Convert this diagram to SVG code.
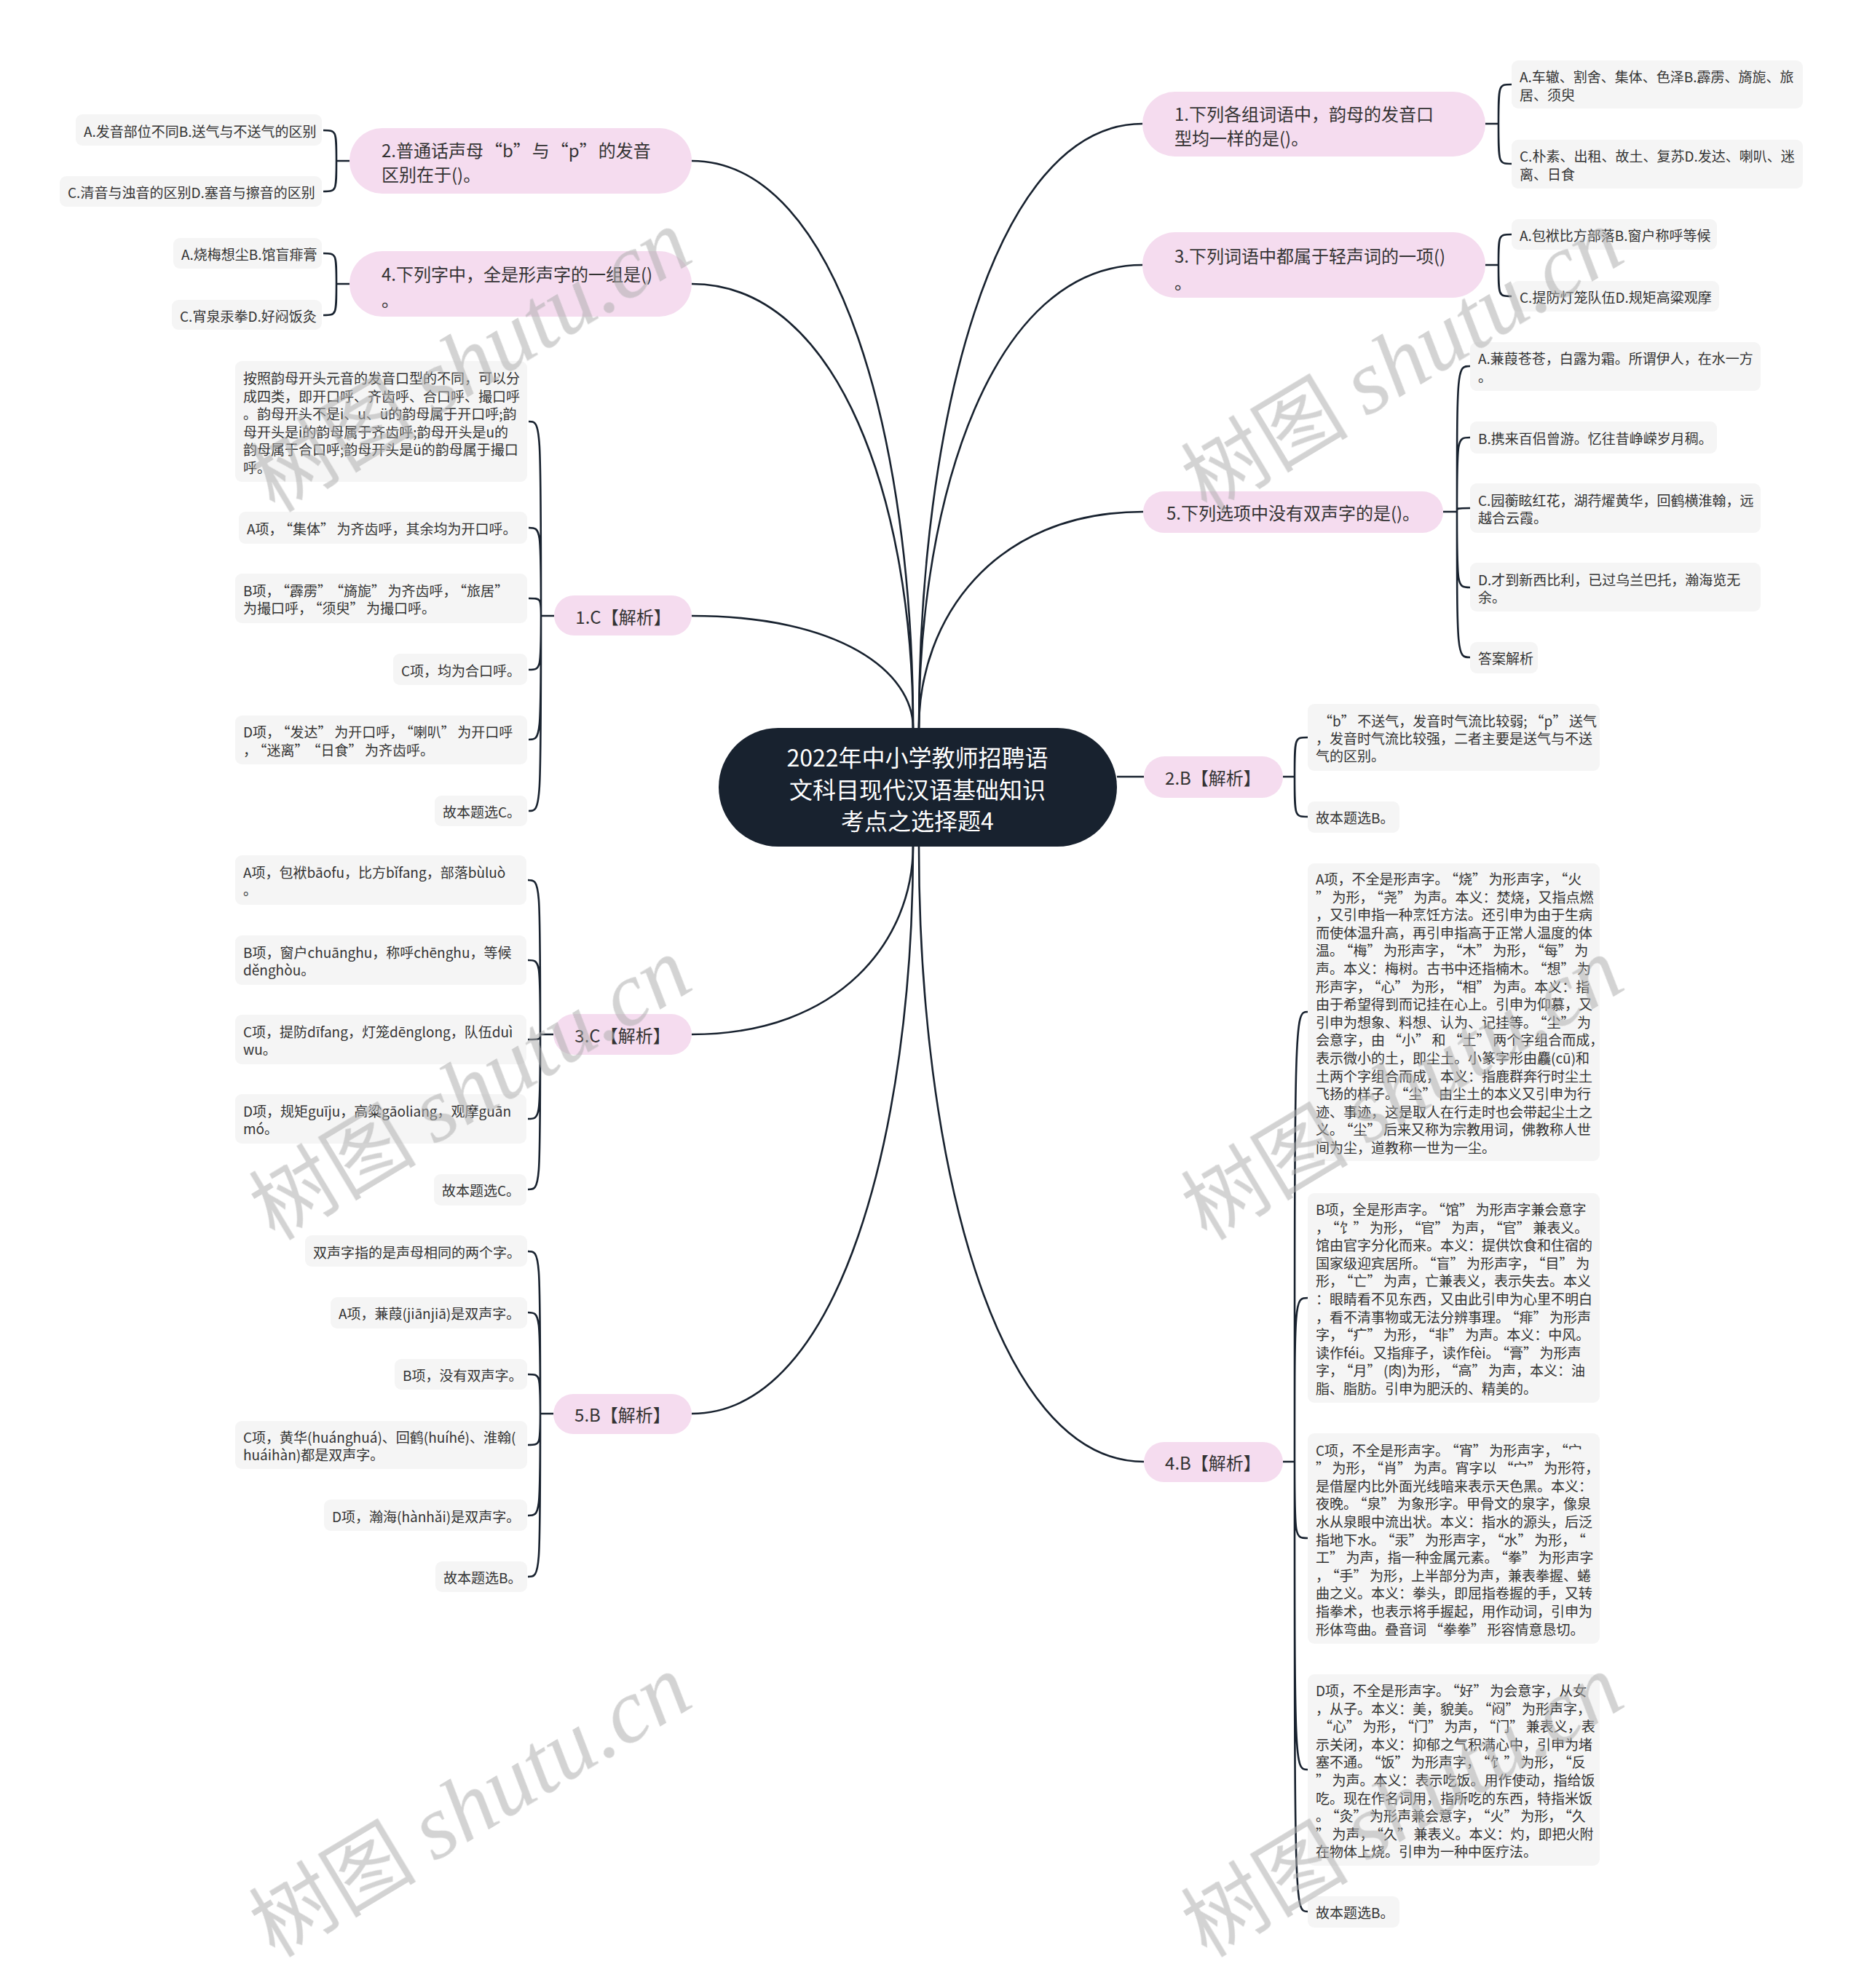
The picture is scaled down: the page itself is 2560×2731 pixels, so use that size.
<svg xmlns="http://www.w3.org/2000/svg" width="2560" height="2731" viewBox="0 0 2560 2731">
<style>
.bg{fill:#ffffff}
.pk{fill:#f5dcef}
.lf{fill:#f5f5f5}
.ln{fill:none;stroke:#18222f;stroke-width:2.6}
text{font-family:"Noto Sans CJK SC","Noto Sans",sans-serif;dominant-baseline:central}
.t1{font-size:24px;fill:#333333}
.t2{font-size:19px;fill:#333333}
.ct{font-size:32px;fill:#ffffff}
.c{letter-spacing:3.5px}
.c1{letter-spacing:2px}
.wm{fill:#b0b0b0;opacity:0.55}
</style>
<rect class="bg" x="0" y="0" width="2560" height="2731"/>
<g id="connectors">
<path class="ln" d="M1254 1000 C1254 610 1154 221 950 221"/>
<path class="ln" d="M1254 1000 C1254 695 1154 390 950 390"/>
<path class="ln" d="M1254 1000 C1254 923 1154 846 950 846"/>
<path class="ln" d="M1262 1000 C1262 585 1363 170 1569 170"/>
<path class="ln" d="M1262 1000 C1262 682 1363 364 1569 364"/>
<path class="ln" d="M1262 1000 C1262 851 1364 703 1570 703"/>
<path class="ln" d="M1254 1162 C1254 1291 1154 1421 950 1421"/>
<path class="ln" d="M1254 1162 C1254 1552 1154 1942 950 1942"/>
<path class="ln" d="M1262 1162 C1262 1585 1364 2008 1571 2008"/>
<path class="ln" d="M1534 1067 L1571 1067"/>
<path class="ln" d="M480 221 L462 221 C462 179 462 179 444 179 M462 221 C462 263 462 263 444 263"/>
<path class="ln" d="M480 390 L462 390 C462 348 462 348 444 348 M462 390 C462 433 462 433 444 433"/>
<path class="ln" d="M761 846 L743 846 C743 579 743 579 726 579 M743 846 C743 725 743 725 726 725 M743 846 C743 822 743 822 726 822 M743 846 C743 920 743 920 726 920 M743 846 C743 1016 743 1016 726 1016 M743 846 C743 1114 743 1114 726 1114"/>
<path class="ln" d="M760 1421 L742 1421 C742 1209 742 1209 725 1209 M742 1421 C742 1319 742 1319 725 1319 M742 1421 C742 1428 742 1428 725 1428 M742 1421 C742 1537 742 1537 725 1537 M742 1421 C742 1634 742 1634 725 1634"/>
<path class="ln" d="M760 1942 L742 1942 C742 1719 742 1719 725 1719 M742 1942 C742 1803 742 1803 725 1803 M742 1942 C742 1888 742 1888 725 1888 M742 1942 C742 1985 742 1985 725 1985 M742 1942 C742 2082 742 2082 725 2082 M742 1942 C742 2166 742 2166 725 2166"/>
<path class="ln" d="M2040 170 L2058 170 C2058 116 2058 116 2076 116 M2058 170 C2058 225 2058 225 2076 225"/>
<path class="ln" d="M2040 364 L2058 364 C2058 322 2058 322 2076 322 M2058 364 C2058 407 2058 407 2076 407"/>
<path class="ln" d="M1982 703 L2001 703 C2001 503 2001 503 2019 503 M2001 703 C2001 601 2001 601 2019 601 M2001 703 C2001 698 2001 698 2019 698 M2001 703 C2001 807 2001 807 2019 807 M2001 703 C2001 903 2001 903 2019 903"/>
<path class="ln" d="M1762 1067 L1778 1067 C1778 1013 1778 1013 1796 1013 M1778 1067 C1778 1122 1778 1122 1796 1122"/>
<path class="ln" d="M1762 2008 L1778 2008 C1778 1390 1778 1390 1796 1390 M1778 2008 C1778 1783 1778 1783 1796 1783 M1778 2008 C1778 2113 1778 2113 1796 2113 M1778 2008 C1778 2431 1778 2431 1796 2431 M1778 2008 C1778 2626 1778 2626 1796 2626"/>
</g>
<g id="root">
<rect x="987" y="1000" width="547" height="163" rx="81.5" fill="#18222f"/>
<text class="ct" text-anchor="middle"><tspan x="1260" y="1039">2022年中小学教师招聘语</tspan><tspan x="1260" y="1083">文科目现代汉语基础知识</tspan><tspan x="1260" y="1126">考点之选择题4</tspan></text>
</g>
<g id="q2">
<rect class="pk" x="480" y="176" width="470" height="90" rx="45"/>
<text class="t1"><tspan x="524" y="205">2.普通话声母<tspan dx="2">“</tspan>b<tspan class="c1">”</tspan>与<tspan dx="2">“</tspan>p<tspan class="c1">”</tspan>的发音</tspan><tspan x="524" y="238">区别在于()。</tspan></text>
<rect class="lf" x="104" y="157" width="338" height="43" rx="9"/>
<text class="t2" x="115" y="179">A.发音部位不同B.送气与不送气的区别</text>
<rect class="lf" x="82" y="242" width="360" height="42" rx="9"/>
<text class="t2" x="93" y="263">C.清音与浊音的区别D.塞音与擦音的区别</text>
</g>
<g id="q4">
<rect class="pk" x="480" y="345" width="470" height="90" rx="45"/>
<text class="t1"><tspan x="524" y="375">4.下列字中，全是形声字的一组是()</tspan><tspan x="524" y="410">。</tspan></text>
<rect class="lf" x="238" y="327" width="204" height="42" rx="9"/>
<text class="t2" x="249" y="348">A.烧梅想尘B.馆盲痱膏</text>
<rect class="lf" x="236" y="412" width="206" height="41" rx="9"/>
<text class="t2" x="247" y="433">C.宵泉汞拳D.好闷饭灸</text>
</g>
<g id="a1">
<rect class="pk" x="761" y="818" width="189" height="55" rx="27.5"/>
<text class="t1" x="856" y="846" text-anchor="middle">1.C【解析】</text>
<rect class="lf" x="323" y="496" width="401" height="166" rx="9"/>
<text class="t2"><tspan x="334" y="518">按照韵母开头元音的发音口型的不同，可以分</tspan><tspan x="334" y="542.5">成四类，即开口呼、齐齿呼、合口呼、撮口呼</tspan><tspan x="334" y="567">。韵母开头不是i、u、ü的韵母属于开口呼;韵</tspan><tspan x="334" y="591.5">母开头是i的韵母属于齐齿呼;韵母开头是u的</tspan><tspan x="334" y="616">韵母属于合口呼;韵母开头是ü的韵母属于撮口</tspan><tspan x="334" y="640.5">呼。</tspan></text>
<rect class="lf" x="328" y="703" width="396" height="44" rx="9"/>
<text class="t2" x="339" y="725">A项，<tspan dx="4">“</tspan>集体<tspan class="c">”</tspan>为齐齿呼，其余均为开口呼。</text>
<rect class="lf" x="323" y="788" width="401" height="68" rx="9"/>
<text class="t2"><tspan x="334" y="810">B项，<tspan dx="4">“</tspan>霹雳<tspan class="c">”</tspan><tspan dx="4">“</tspan>旖旎<tspan class="c">”</tspan>为齐齿呼，<tspan dx="4">“</tspan>旅居<tspan class="c">”</tspan></tspan><tspan x="334" y="834">为撮口呼，<tspan dx="4">“</tspan>须臾<tspan class="c">”</tspan>为撮口呼。</tspan></text>
<rect class="lf" x="540" y="898" width="184" height="43" rx="9"/>
<text class="t2" x="551" y="920">C项，均为合口呼。</text>
<rect class="lf" x="323" y="983" width="401" height="67" rx="9"/>
<text class="t2"><tspan x="334" y="1004">D项，<tspan dx="4">“</tspan>发达<tspan class="c">”</tspan>为开口呼，<tspan dx="4">“</tspan>喇叭<tspan class="c">”</tspan>为开口呼</tspan><tspan x="334" y="1029">，<tspan dx="4">“</tspan>迷离<tspan class="c">”</tspan><tspan dx="4">“</tspan>日食<tspan class="c">”</tspan>为齐齿呼。</tspan></text>
<rect class="lf" x="597" y="1093" width="127" height="42" rx="9"/>
<text class="t2" x="608" y="1114">故本题选C。</text>
</g>
<g id="a3">
<rect class="pk" x="760" y="1393" width="190" height="56" rx="28"/>
<text class="t1" x="855" y="1421" text-anchor="middle">3.C【解析】</text>
<rect class="lf" x="323" y="1175" width="400" height="68" rx="9"/>
<text class="t2"><tspan x="334" y="1197">A项，包袱bāofu，比方bǐfang，部落bùluò</tspan><tspan x="334" y="1221">。</tspan></text>
<rect class="lf" x="323" y="1285" width="400" height="68" rx="9"/>
<text class="t2"><tspan x="334" y="1307">B项，窗户chuānghu，称呼chēnghu，等候</tspan><tspan x="334" y="1331">děnghòu。</tspan></text>
<rect class="lf" x="323" y="1394" width="400" height="68" rx="9"/>
<text class="t2"><tspan x="334" y="1416">C项，提防dīfang，灯笼dēnglong，队伍duì</tspan><tspan x="334" y="1440">wu。</tspan></text>
<rect class="lf" x="323" y="1503" width="400" height="68" rx="9"/>
<text class="t2"><tspan x="334" y="1525">D项，规矩guīju，高粱gāoliang，观摩guān</tspan><tspan x="334" y="1549">mó。</tspan></text>
<rect class="lf" x="596" y="1613" width="127" height="43" rx="9"/>
<text class="t2" x="607" y="1634">故本题选C。</text>
</g>
<g id="a5">
<rect class="pk" x="760" y="1915" width="190" height="55" rx="27.5"/>
<text class="t1" x="855" y="1942" text-anchor="middle">5.B【解析】</text>
<rect class="lf" x="419" y="1697" width="305" height="43" rx="9"/>
<text class="t2" x="430" y="1719">双声字指的是声母相同的两个字。</text>
<rect class="lf" x="454" y="1782" width="270" height="43" rx="9"/>
<text class="t2" x="465" y="1803">A项，蒹葭(jiānjiā)是双声字。</text>
<rect class="lf" x="542" y="1867" width="182" height="42" rx="9"/>
<text class="t2" x="553" y="1888">B项，没有双声字。</text>
<rect class="lf" x="323" y="1952" width="401" height="66" rx="9"/>
<text class="t2"><tspan x="334" y="1973">C项，黄华(huánghuá)、回鹤(huíhé)、淮翰(</tspan><tspan x="334" y="1997">huáihàn)都是双声字。</tspan></text>
<rect class="lf" x="445" y="2060" width="279" height="43" rx="9"/>
<text class="t2" x="456" y="2082">D项，瀚海(hànhǎi)是双声字。</text>
<rect class="lf" x="598" y="2145" width="126" height="42" rx="9"/>
<text class="t2" x="609" y="2166">故本题选B。</text>
</g>
<g id="q1">
<rect class="pk" x="1569" y="126" width="471" height="89" rx="44.5"/>
<text class="t1"><tspan x="1613" y="155">1.下列各组词语中，韵母的发音口</tspan><tspan x="1613" y="188">型均一样的是()。</tspan></text>
<rect class="lf" x="2076" y="83" width="400" height="66" rx="9"/>
<text class="t2"><tspan x="2087" y="104">A.车辙、割舍、集体、色泽B.霹雳、旖旎、旅</tspan><tspan x="2087" y="128.5">居、须臾</tspan></text>
<rect class="lf" x="2076" y="192" width="400" height="67" rx="9"/>
<text class="t2"><tspan x="2087" y="213">C.朴素、出租、故土、复苏D.发达、喇叭、迷</tspan><tspan x="2087" y="237.5">离、日食</tspan></text>
</g>
<g id="q3">
<rect class="pk" x="1569" y="319" width="471" height="90" rx="45"/>
<text class="t1"><tspan x="1613" y="350">3.下列词语中都属于轻声词的一项()</tspan><tspan x="1613" y="386">。</tspan></text>
<rect class="lf" x="2076" y="301" width="282" height="42" rx="9"/>
<text class="t2" x="2087" y="322">A.包袱比方部落B.窗户称呼等候</text>
<rect class="lf" x="2076" y="386" width="285" height="42" rx="9"/>
<text class="t2" x="2087" y="407">C.提防灯笼队伍D.规矩高粱观摩</text>
</g>
<g id="q5">
<rect class="pk" x="1570" y="675" width="412" height="57" rx="28.5"/>
<text class="t1" x="1776" y="703" text-anchor="middle">5.下列选项中没有双声字的是()。</text>
<rect class="lf" x="2019" y="470" width="399" height="67" rx="9"/>
<text class="t2"><tspan x="2030" y="491">A.蒹葭苍苍，白露为霜。所谓伊人，在水一方</tspan><tspan x="2030" y="515.5">。</tspan></text>
<rect class="lf" x="2019" y="579" width="339" height="44" rx="9"/>
<text class="t2" x="2030" y="601">B.携来百侣曾游。忆往昔峥嵘岁月稠。</text>
<rect class="lf" x="2019" y="664" width="399" height="68" rx="9"/>
<text class="t2"><tspan x="2030" y="686">C.园蘅眩红花，湖荇燿黄华，回鹤横淮翰，远</tspan><tspan x="2030" y="710">越合云霞。</tspan></text>
<rect class="lf" x="2019" y="773" width="399" height="67" rx="9"/>
<text class="t2"><tspan x="2030" y="795">D.才到新西比利，已过乌兰巴托，瀚海览无</tspan><tspan x="2030" y="819">余。</tspan></text>
<rect class="lf" x="2019" y="882" width="93" height="43" rx="9"/>
<text class="t2" x="2030" y="903">答案解析</text>
</g>
<g id="a2">
<rect class="pk" x="1571" y="1039" width="191" height="57" rx="28.5"/>
<text class="t1" x="1666" y="1067" text-anchor="middle">2.B【解析】</text>
<rect class="lf" x="1796" y="967" width="401" height="92" rx="9"/>
<text class="t2"><tspan x="1807" y="989"><tspan dx="4">“</tspan>b<tspan class="c">”</tspan>不送气，发音时气流比较弱;<tspan dx="4">“</tspan>p<tspan class="c">”</tspan>送气</tspan><tspan x="1807" y="1013">，发音时气流比较强，二者主要是送气与不送</tspan><tspan x="1807" y="1037">气的区别。</tspan></text>
<rect class="lf" x="1796" y="1101" width="126" height="43" rx="9"/>
<text class="t2" x="1807" y="1122">故本题选B。</text>
</g>
<g id="a4">
<rect class="pk" x="1571" y="1981" width="191" height="55" rx="27.5"/>
<text class="t1" x="1666" y="2008" text-anchor="middle">4.B【解析】</text>
<rect class="lf" x="1796" y="1186" width="401" height="409" rx="9"/>
<text class="t2"><tspan x="1807" y="1206">A项，不全是形声字。<tspan dx="4">“</tspan>烧<tspan class="c">”</tspan>为形声字，<tspan dx="4">“</tspan>火</tspan><tspan x="1807" dy="24.6"><tspan class="c">”</tspan>为形，<tspan dx="4">“</tspan>尧<tspan class="c">”</tspan>为声。本义：焚烧，又指点燃</tspan><tspan x="1807" dy="24.6">，又引申指一种烹饪方法。还引申为由于生病</tspan><tspan x="1807" dy="24.6">而使体温升高，再引申指高于正常人温度的体</tspan><tspan x="1807" dy="24.6">温。<tspan dx="4">“</tspan>梅<tspan class="c">”</tspan>为形声字，<tspan dx="4">“</tspan>木<tspan class="c">”</tspan>为形，<tspan dx="4">“</tspan>每<tspan class="c">”</tspan>为</tspan><tspan x="1807" dy="24.6">声。本义：梅树。古书中还指楠木。<tspan dx="4">“</tspan>想<tspan class="c">”</tspan>为</tspan><tspan x="1807" dy="24.6">形声字，<tspan dx="4">“</tspan>心<tspan class="c">”</tspan>为形，<tspan dx="4">“</tspan>相<tspan class="c">”</tspan>为声。本义：指</tspan><tspan x="1807" dy="24.6">由于希望得到而记挂在心上。引申为仰慕，又</tspan><tspan x="1807" dy="24.6">引申为想象、料想、认为、记挂等。<tspan dx="4">“</tspan>尘<tspan class="c">”</tspan>为</tspan><tspan x="1807" dy="24.6">会意字，由<tspan dx="4">“</tspan>小<tspan class="c">”</tspan>和<tspan dx="4">“</tspan>土<tspan class="c">”</tspan>两个字组合而成，</tspan><tspan x="1807" dy="24.6">表示微小的土，即尘土。小篆字形由麤(cū)和</tspan><tspan x="1807" dy="24.6">土两个字组合而成，本义：指鹿群奔行时尘土</tspan><tspan x="1807" dy="24.6">飞扬的样子。<tspan dx="4">“</tspan>尘<tspan class="c">”</tspan>由尘土的本义又引申为行</tspan><tspan x="1807" dy="24.6">迹、事迹，这是取人在行走时也会带起尘土之</tspan><tspan x="1807" dy="24.6">义。<tspan dx="4">“</tspan>尘<tspan class="c">”</tspan>后来又称为宗教用词，佛教称人世</tspan><tspan x="1807" dy="24.6">间为尘，道教称一世为一尘。</tspan></text>
<rect class="lf" x="1796" y="1639" width="401" height="288" rx="9"/>
<text class="t2"><tspan x="1807" y="1660">B项，全是形声字。<tspan dx="4">“</tspan>馆<tspan class="c">”</tspan>为形声字兼会意字</tspan><tspan x="1807" dy="24.6">，<tspan dx="4">“</tspan>饣<tspan class="c">”</tspan>为形，<tspan dx="4">“</tspan>官<tspan class="c">”</tspan>为声，<tspan dx="4">“</tspan>官<tspan class="c">”</tspan>兼表义。</tspan><tspan x="1807" dy="24.6">馆由官字分化而来。本义：提供饮食和住宿的</tspan><tspan x="1807" dy="24.6">国家级迎宾居所。<tspan dx="4">“</tspan>盲<tspan class="c">”</tspan>为形声字，<tspan dx="4">“</tspan>目<tspan class="c">”</tspan>为</tspan><tspan x="1807" dy="24.6">形，<tspan dx="4">“</tspan>亡<tspan class="c">”</tspan>为声，亡兼表义，表示失去。本义</tspan><tspan x="1807" dy="24.6">：眼睛看不见东西，又由此引申为心里不明白</tspan><tspan x="1807" dy="24.6">，看不清事物或无法分辨事理。<tspan dx="4">“</tspan>痱<tspan class="c">”</tspan>为形声</tspan><tspan x="1807" dy="24.6">字，<tspan dx="4">“</tspan>疒<tspan class="c">”</tspan>为形，<tspan dx="4">“</tspan>非<tspan class="c">”</tspan>为声。本义：中风。</tspan><tspan x="1807" dy="24.6">读作féi。又指痱子，读作fèi。<tspan dx="4">“</tspan>膏<tspan class="c">”</tspan>为形声</tspan><tspan x="1807" dy="24.6">字，<tspan dx="4">“</tspan>月<tspan class="c">”</tspan>(肉)为形，<tspan dx="4">“</tspan>高<tspan class="c">”</tspan>为声，本义：油</tspan><tspan x="1807" dy="24.6">脂、脂肪。引申为肥沃的、精美的。</tspan></text>
<rect class="lf" x="1796" y="1969" width="401" height="289" rx="9"/>
<text class="t2"><tspan x="1807" y="1990.5">C项，不全是形声字。<tspan dx="4">“</tspan>宵<tspan class="c">”</tspan>为形声字，<tspan dx="4">“</tspan>宀</tspan><tspan x="1807" dy="24.6"><tspan class="c">”</tspan>为形，<tspan dx="4">“</tspan>肖<tspan class="c">”</tspan>为声。宵字以<tspan dx="4">“</tspan>宀<tspan class="c">”</tspan>为形符，</tspan><tspan x="1807" dy="24.6">是借屋内比外面光线暗来表示天色黑。本义：</tspan><tspan x="1807" dy="24.6">夜晚。<tspan dx="4">“</tspan>泉<tspan class="c">”</tspan>为象形字。甲骨文的泉字，像泉</tspan><tspan x="1807" dy="24.6">水从泉眼中流出状。本义：指水的源头，后泛</tspan><tspan x="1807" dy="24.6">指地下水。<tspan dx="4">“</tspan>汞<tspan class="c">”</tspan>为形声字，<tspan dx="4">“</tspan>水<tspan class="c">”</tspan>为形，<tspan dx="4">“</tspan></tspan><tspan x="1807" dy="24.6">工<tspan class="c">”</tspan>为声，指一种金属元素。<tspan dx="4">“</tspan>拳<tspan class="c">”</tspan>为形声字</tspan><tspan x="1807" dy="24.6">，<tspan dx="4">“</tspan>手<tspan class="c">”</tspan>为形，上半部分为声，兼表拳握、蜷</tspan><tspan x="1807" dy="24.6">曲之义。本义：拳头，即屈指卷握的手，又转</tspan><tspan x="1807" dy="24.6">指拳术，也表示将手握起，用作动词，引申为</tspan><tspan x="1807" dy="24.6">形体弯曲。叠音词<tspan dx="4">“</tspan>拳拳<tspan class="c">”</tspan>形容情意恳切。</tspan></text>
<rect class="lf" x="1796" y="2300" width="401" height="263" rx="9"/>
<text class="t2"><tspan x="1807" y="2321">D项，不全是形声字。<tspan dx="4">“</tspan>好<tspan class="c">”</tspan>为会意字，从女</tspan><tspan x="1807" dy="24.6">，从子。本义：美，貌美。<tspan dx="4">“</tspan>闷<tspan class="c">”</tspan>为形声字，</tspan><tspan x="1807" dy="24.6"><tspan dx="4">“</tspan>心<tspan class="c">”</tspan>为形，<tspan dx="4">“</tspan>门<tspan class="c">”</tspan>为声，<tspan dx="4">“</tspan>门<tspan class="c">”</tspan>兼表义，表</tspan><tspan x="1807" dy="24.6">示关闭，本义：抑郁之气积满心中，引申为堵</tspan><tspan x="1807" dy="24.6">塞不通。<tspan dx="4">“</tspan>饭<tspan class="c">”</tspan>为形声字，<tspan dx="4">“</tspan>饣<tspan class="c">”</tspan>为形，<tspan dx="4">“</tspan>反</tspan><tspan x="1807" dy="24.6"><tspan class="c">”</tspan>为声。本义：表示吃饭。用作使动，指给饭</tspan><tspan x="1807" dy="24.6">吃。现在作名词用，指所吃的东西，特指米饭</tspan><tspan x="1807" dy="24.6">。<tspan dx="4">“</tspan>灸<tspan class="c">”</tspan>为形声兼会意字，<tspan dx="4">“</tspan>火<tspan class="c">”</tspan>为形，<tspan dx="4">“</tspan>久</tspan><tspan x="1807" dy="24.6"><tspan class="c">”</tspan>为声，<tspan dx="4">“</tspan>久<tspan class="c">”</tspan>兼表义。本义：灼，即把火附</tspan><tspan x="1807" dy="24.6">在物体上烧。引申为一种中医疗法。</tspan></text>
<rect class="lf" x="1796" y="2605" width="126" height="43" rx="9"/>
<text class="t2" x="1807" y="2626">故本题选B。</text>
</g>
<g id="watermarks" class="wm">
<text transform="translate(377 705) rotate(-31)" style="dominant-baseline:alphabetic"><tspan font-size="115">树图 </tspan><tspan font-size="125" font-family="Liberation Serif, serif" font-style="italic">shutu.cn</tspan></text>
<text transform="translate(377 1705) rotate(-31)" style="dominant-baseline:alphabetic"><tspan font-size="115">树图 </tspan><tspan font-size="125" font-family="Liberation Serif, serif" font-style="italic">shutu.cn</tspan></text>
<text transform="translate(377 2690) rotate(-31)" style="dominant-baseline:alphabetic"><tspan font-size="115">树图 </tspan><tspan font-size="125" font-family="Liberation Serif, serif" font-style="italic">shutu.cn</tspan></text>
<text transform="translate(1657 705) rotate(-31)" style="dominant-baseline:alphabetic"><tspan font-size="115">树图 </tspan><tspan font-size="125" font-family="Liberation Serif, serif" font-style="italic">shutu.cn</tspan></text>
<text transform="translate(1657 1705) rotate(-31)" style="dominant-baseline:alphabetic"><tspan font-size="115">树图 </tspan><tspan font-size="125" font-family="Liberation Serif, serif" font-style="italic">shutu.cn</tspan></text>
<text transform="translate(1657 2690) rotate(-31)" style="dominant-baseline:alphabetic"><tspan font-size="115">树图 </tspan><tspan font-size="125" font-family="Liberation Serif, serif" font-style="italic">shutu.cn</tspan></text>
</g>
</svg>
